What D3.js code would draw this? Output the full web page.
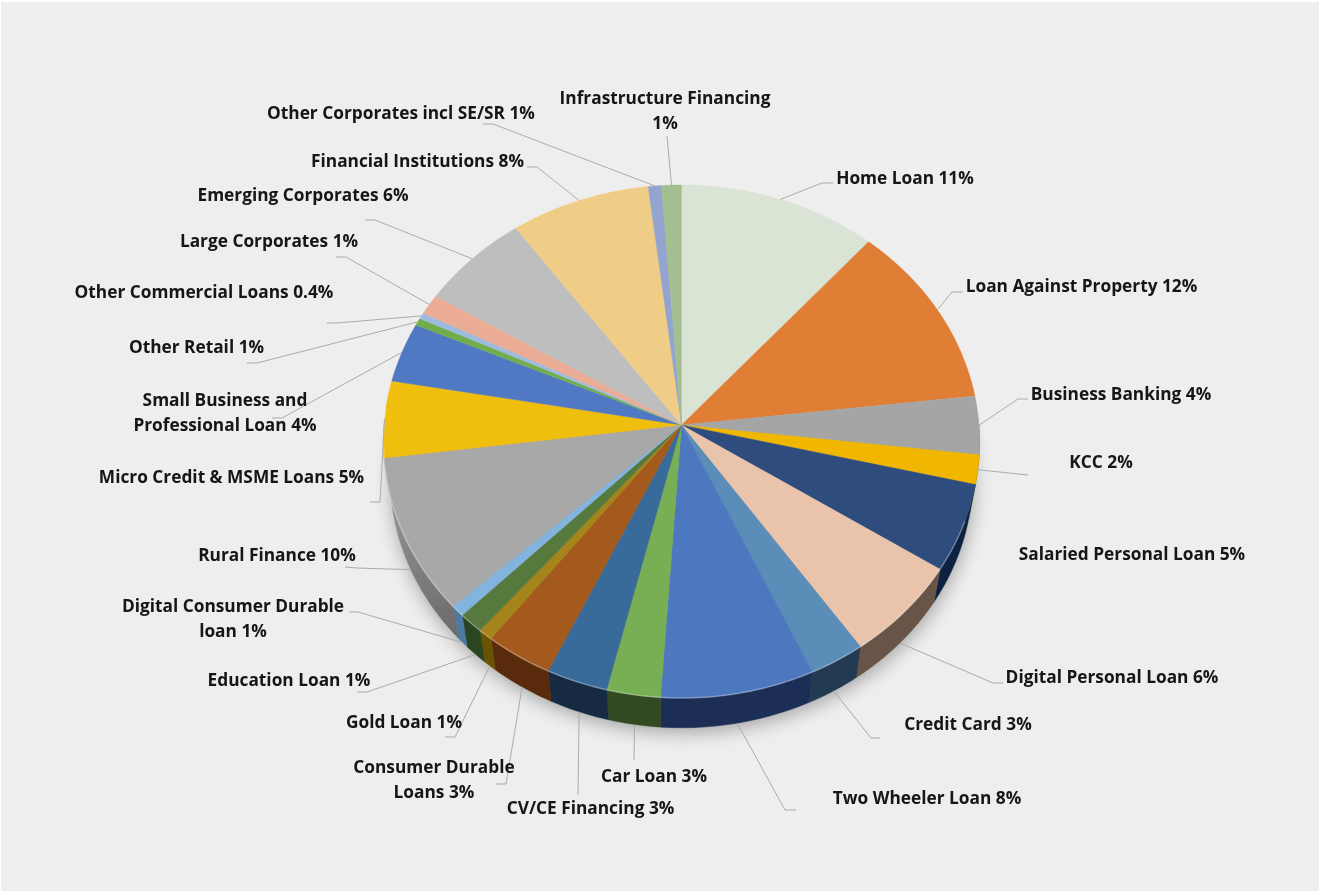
<!DOCTYPE html>
<html>
<head>
<meta charset="utf-8">
<script src="https://cdn.jsdelivr.net/npm/d3@7/dist/d3.min.js"></script>
<style>
  html, body { margin: 0; padding: 0; background: #fff; }
  svg { display: block; }
  text { font-family: "Open Sans", sans-serif; font-weight: 700; font-size: 17.3px; fill: #141414; }
</style>
</head>
<body>
<div id="main-container"></div>
<script>
// clockwise from 12 o'clock, "\n" marks a wrapped label
var categories = ["Home Loan", "Loan Against Property", "Business Banking", "KCC", "Salaried Personal Loan",
    "Digital Personal Loan", "Credit Card", "Two Wheeler Loan", "Car Loan", "CV/CE Financing",
    "Consumer Durable\nLoans", "Gold Loan", "Education Loan", "Digital Consumer Durable\nloan", "Rural Finance",
    "Micro Credit & MSME Loans", "Small Business and\nProfessional Loan", "Other Retail", "Other Commercial Loans",
    "Large Corporates", "Emerging Corporates", "Financial Institutions", "Other Corporates incl SE/SR",
    "Infrastructure Financing\n"];
var shares = [11.46, 11.72, 3.67, 1.84, 5.48, 6.18, 2.85, 7.85, 2.74, 3.15, 3.46, 0.74,
              1.28, 0.71, 9.82, 4.84, 3.78, 0.47, 0.39, 1.30, 6.30, 8.07, 0.76, 1.14];
var shareLabels = ["11%", "12%", "4%", "2%", "5%", "6%", "3%", "8%", "3%", "3%", "3%", "1%",
                   "1%", "1%", "10%", "5%", "4%", "1%", "0.4%", "1%", "6%", "8%", "1%", "1%"];
var topColors = ["#DAE4D4", "#E07E36", "#A5A5A5", "#F0B606", "#2F4E7E", "#EAC4AA", "#5A8DB8", "#4E78C0",
                 "#78AF55", "#376B9A", "#A35A1E", "#A6841A", "#577A3E", "#82B4DE", "#A8A8A8", "#F0BE10",
                 "#5179C3", "#72AD4E", "#9CBBDF", "#EBAC95", "#BEBEBE", "#EFCD87", "#93A4CE", "#A3BF8F"];
var wallColors = ["#6E7369", "#70401B", "#7A7A7A", "#785B03", "#0F2340", "#675546", "#243B53", "#1C2E54",
                  "#304820", "#122A42", "#5A2C08", "#6B5200", "#2A4421", "#4D7A9E", "url(#ruralWall)", "#78600A",
                  "#283C62", "#395727", "#4E5E70", "#76564A", "#5F5F5F", "#786744", "#4A5267", "#526048"];

// label layout: centre x, centre y of first line
var labelSpots = [[905,178],[1081.5,286],[1121,394],[1101,462],[1132,554],[1112,677],[968,724],[927,798],
                  [654,776],[590.5,808],[434,767],[404,722],[289,680],[233,606],[277,555],[231.5,477],
                  [225,400],[196.5,347],[204,292],[269,241],[303,195],[417.5,161],[401,113],[665,98]];
// leader lines: bends after the point on the slice edge (null = no leader)
var leaderBends = [[[822,183],[833,183]], [[952,292],[963,292]], [[1018,399],[1028,399]], [[1018,474],[1028,475]],
    null, [[993,683],[1003,683]], [[871,738],[880,738]], [[785,810],[796,810]],
    [[634,760]], [[578,795]], [[506,784],[496,784]], [[455,737],[445,737]],
    [[367,692],[357,692]], [[358,612],[349,612]], [[357,568],[345,567]], [[380,502],[370,502]],
    [[282,418],[272,418]], [[257,363],[247,363]], [[337,323],[327,323]], [[346,257],[336,257]],
    [[375,220],[365,220]], [[537,167],[527,167]], [[493,124],[483,124]], [[667,136]]];

var width = 1320, height = 893;
var cx = 681.5, cy = 425;
var spreadX = 297.5, spreadY = 255.5, persp = 0.0643;   // tilted disc, near edge looks bigger
var wallScale = 0.977, wallDrop = 36;

// angle on the disc -> screen; level 0 = top face, 1 = bottom rim
function project(angle, level, radius) {
    var r = radius === undefined ? 1 : radius;
    var c = Math.cos(angle) * r, s = Math.sin(angle) * r;
    var w = 1 + persp * c;
    var k = level ? wallScale : 1;
    return [cx + k * spreadX * s / w, cy + (level ? wallDrop : 0) - k * spreadY * c / w];
}

function rim(a0, a1, level) {
    var n = Math.max(2, Math.ceil((a1 - a0) / 0.02));
    return d3.range(n + 1).map(function(i) {
        return project(a0 + (a1 - a0) * i / n, level);
    });
}

var line = d3.line();
var slices = d3.pie().sort(null).value(function(d) { return d; })(shares);

var svg = d3.select("#main-container").append("svg")
    .attr("width", width).attr("height", height);

var defs = svg.append("defs");
defs.append("filter").attr("id", "soft").attr("x", "-20%").attr("y", "-20%").attr("width", "140%").attr("height", "140%")
    .append("feGaussianBlur").attr("stdDeviation", 9);
defs.append("filter").attr("id", "faint").attr("x", "-5%").attr("y", "-5%").attr("width", "110%").attr("height", "110%")
    .append("feGaussianBlur").attr("stdDeviation", 0.5);
defs.append("filter").attr("id", "textSoft").attr("x", "-5%").attr("y", "-5%").attr("width", "110%").attr("height", "110%")
    .append("feGaussianBlur").attr("stdDeviation", 0.3);
var grad = defs.append("linearGradient").attr("id", "ruralWall")
    .attr("gradientUnits", "userSpaceOnUse").attr("x1", 385).attr("y1", 470).attr("x2", 465).attr("y2", 640);
grad.append("stop").attr("offset", 0).attr("stop-color", "#9C9C9C");
grad.append("stop").attr("offset", 1).attr("stop-color", "#686868");

svg.append("rect").attr("x", 1).attr("y", 2).attr("width", width - 2).attr("height", height - 4).attr("fill", "#EEEEEE");

// soft shadow under the disc
svg.append("path")
    .attr("d", line(rim(Math.PI * 0.45, Math.PI * 1.55, 1)) + "Z")
    .attr("transform", "translate(1,5)")
    .attr("fill", "#000").attr("opacity", 0.3)
    .attr("filter", "url(#soft)");

var pie = svg.append("g").attr("filter", "url(#faint)");

// side walls first, top face paints over whatever should be hidden
pie.selectAll("path.wall").data(slices).enter().append("path")
    .attr("class", "wall")
    .attr("d", function(d) {
        var a0 = Math.max(d.startAngle, Math.PI / 2);
        var a1 = Math.min(d.endAngle, Math.PI * 1.5);
        if (a1 <= a0) return null;
        return line(rim(a0, a1, 0).concat(rim(a0, a1, 1).reverse())) + "Z";
    })
    .attr("fill", function(d, i) { return wallColors[i]; })
    .attr("stroke", function(d, i) { return wallColors[i]; })
    .attr("stroke-width", 0.4);

pie.selectAll("path.top").data(slices).enter().append("path")
    .attr("class", "top")
    .attr("d", function(d) {
        return line([[cx, cy]].concat(rim(d.startAngle, d.endAngle, 0))) + "Z";
    })
    .attr("fill", function(d, i) { return topColors[i]; })
    .attr("stroke", function(d, i) { return topColors[i]; })
    .attr("stroke-width", 0.4);

// pale bevel along the near edge
pie.append("path")
    .attr("d", line(rim(Math.PI * 0.62, Math.PI * 1.52, 0)))
    .attr("fill", "none").attr("stroke", "#fff").attr("stroke-opacity", 0.3).attr("stroke-width", 1.5);

// leader lines start on the slice's middle, on the bottom rim where the wall shows
var leaders = svg.append("g").attr("fill", "none").attr("stroke", "#ABABAB").attr("stroke-width", 1);
slices.forEach(function(d, i) {
    if (!leaderBends[i]) return;
    var mid = (d.startAngle + d.endAngle) / 2;
    var low = mid > Math.PI * 0.6 && mid < Math.PI * 1.45;
    leaders.append("path").attr("d", line([project(mid, low ? 1 : 0)].concat(leaderBends[i])));
});

var labels = svg.append("g").attr("text-anchor", "middle").attr("filter", "url(#textSoft)");
categories.forEach(function(name, i) {
    var rows = (name + " " + shareLabels[i]).split("\n");
    rows.forEach(function(row, j) {
        labels.append("text")
            .attr("x", labelSpots[i][0])
            .attr("y", labelSpots[i][1] + j * 25 + 6)
            .text(row.trim());
    });
});
</script>
</body>
</html>
